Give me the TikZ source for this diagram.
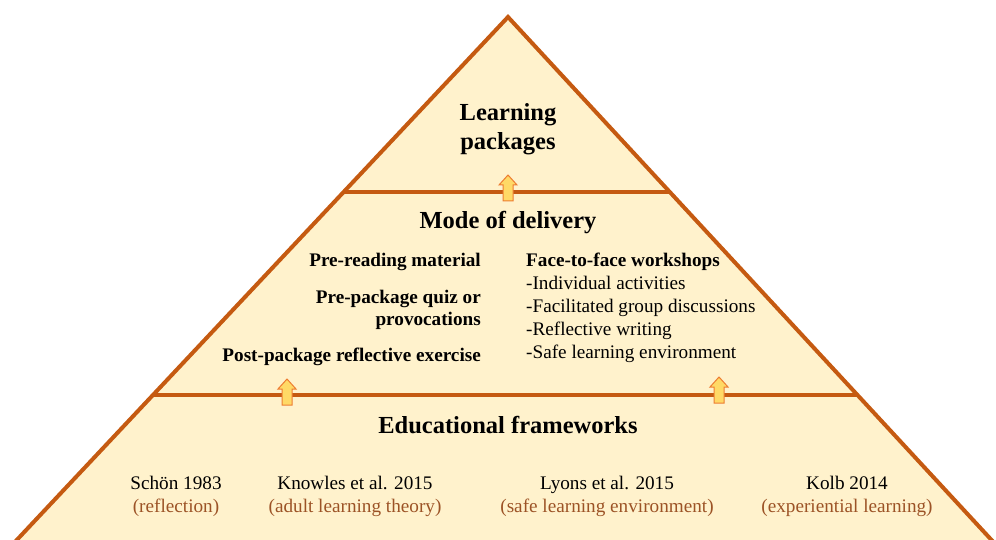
\documentclass[tikz,border=0pt]{standalone}
\usepackage{fontspec}
\setmainfont{Liberation Serif}
\definecolor{edgeC}{HTML}{C55A11}
\definecolor{fillC}{HTML}{FFF2CC}
\definecolor{arrF}{HTML}{FFD966}
\definecolor{arrD}{HTML}{ED7D31}
\definecolor{refC}{HTML}{9C5326}
\begin{document}
\begin{tikzpicture}[x=1pt,y=-1pt,
  title/.style={font=\fontsize{24.5}{29}\selectfont\bfseries, align=center, inner sep=0pt},
  lefttxt/.style={font=\fontsize{19.2}{22}\selectfont\bfseries, align=right, anchor=east, inner sep=0pt},
  righttxt/.style={font=\fontsize{19.2}{23}\selectfont, align=left, anchor=north west, inner sep=0pt},
  reftxt/.style={font=\fontsize{19.2}{23}\selectfont, align=center, inner sep=0pt},
  tier/.style={draw=edgeC, line width=4pt},
  uparrow/.style={fill=arrF, draw=arrD, line width=1pt, line join=miter}]
\useasboundingbox (0,0) rectangle (996,540);
\clip (0,0) rectangle (996,540);
% pyramid
\coordinate (apex) at (508,17);
\coordinate (bl) at (-2,560);
\coordinate (br) at (1010,560);
\fill[fillC] (apex) -- (bl) -- (br) -- cycle;
\draw[tier, line join=miter] (bl) -- (apex) -- (br);
\coordinate (l1a) at (344,192);
\coordinate (l1b) at (670,192);
\coordinate (l2a) at (153,395);
\coordinate (l2b) at (858,395);
\draw[tier, line width=3.2pt] (l1a) -- (l1b);
\draw[tier, line width=3.2pt] (l2a) -- (l2b);
% block arrows
\foreach \cx/\ty in {508/175, 287/379, 719/377}{
  \draw[uparrow] (\cx,\ty) -- (\cx+9,\ty+10) -- (\cx+5,\ty+10) -- (\cx+5,\ty+26)
     -- (\cx-5,\ty+26) -- (\cx-5,\ty+10) -- (\cx-9,\ty+10) -- cycle;
}
% titles
\node[title] (lp) at (508,129) {Learning\\packages};
\node[title] (mod) at (508,223) {Mode of delivery};
\node[title] (edu) at (508,425) {Educational frameworks};
% left column
\node[lefttxt] (pre) at (481,262) {Pre-reading material};
\node[lefttxt] (quiz) at (481,310) {Pre-package quiz or\\provocations};
\node[lefttxt] (post) at (481,357) {Post-package reflective exercise};
% right column
\node[righttxt] (f2f) at (526,253) {\textbf{Face-to-face workshops}\\-Individual activities\\-Facilitated group discussions\\-Reflective writing\\-Safe learning environment};
% references
\node[reftxt] (schon) at (176,496) {Schön 1983\\\textcolor{refC}{(reflection)}};
\node[reftxt] (know) at (355,496) {Knowles et al. 2015\\\textcolor{refC}{(adult learning theory)}};
\node[reftxt] (lyons) at (607,496) {Lyons et al. 2015\\\textcolor{refC}{(safe learning environment)}};
\node[reftxt] (kolb) at (847,496) {Kolb 2014\\\textcolor{refC}{(experiential learning)}};
\end{tikzpicture}
\end{document}
